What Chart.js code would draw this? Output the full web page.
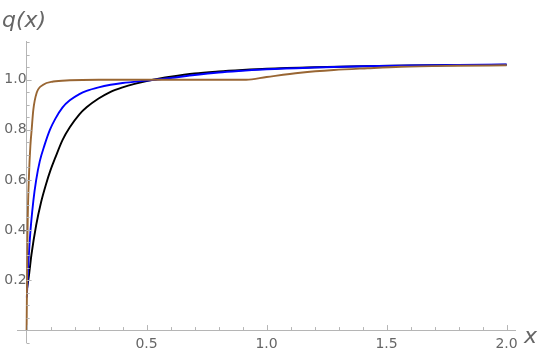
<!DOCTYPE html>
<html>
<head>
<meta charset="utf-8">
<script src="https://cdn.jsdelivr.net/npm/chart.js@4/dist/chart.umd.min.js"></script>
<style>
  body { margin: 0; background: #fff; }
  #wrap { width: 540px; height: 356px; }
</style>
</head>
<body>
<div id="wrap"><canvas id="chart" width="540" height="356"></canvas></div>
<script>
// values
const blackX = [0.001, 0.01, 0.02, 0.04, 0.06, 0.08, 0.10, 0.12, 0.15, 0.18, 0.22, 0.25, 0.30, 0.35, 0.40, 0.45, 0.50, 0.55, 0.60, 0.70, 0.80, 0.90, 1.00, 1.20, 1.40, 1.60, 1.80, 2.00]
const blackY = [0.16, 0.22, 0.30, 0.42, 0.51, 0.58, 0.64, 0.69, 0.76, 0.81, 0.862, 0.89, 0.925, 0.952, 0.970, 0.984, 0.995, 1.004, 1.012, 1.025, 1.033, 1.039, 1.044, 1.050, 1.054, 1.057, 1.059, 1.060]

const blueX = [0.001, 0.005, 0.014, 0.028, 0.04, 0.055, 0.075, 0.097, 0.12, 0.15, 0.18, 0.22, 0.25, 0.30, 0.35, 0.40, 0.50, 0.60, 0.70, 0.80, 0.90, 1.00, 1.20, 1.40, 1.60, 1.80, 2.00]
const blueY = [0.13, 0.22, 0.37, 0.515, 0.60, 0.675, 0.74, 0.80, 0.845, 0.89, 0.918, 0.943, 0.956, 0.970, 0.980, 0.987, 0.997, 1.007, 1.019, 1.029, 1.036, 1.042, 1.049, 1.054, 1.057, 1.059, 1.061]

const brownX = [0, 0.004, 0.01, 0.016, 0.021, 0.028, 0.042, 0.069, 0.111, 0.18, 0.30, 0.60, 0.915, 1.00, 1.14, 1.28, 1.42, 1.56, 1.78, 2.00]
const brownY = [0, 0.40, 0.62, 0.74, 0.80, 0.88, 0.948, 0.98, 0.993, 0.998, 1.0, 1.0, 1.0, 1.011, 1.028, 1.039, 1.046, 1.052, 1.056, 1.058]

const xTicks = [0.5, 1.0, 1.5, 2.0]
const yTicks = [0.2, 0.4, 0.6, 0.8, 1.0]

const axisGray = '#b5b5b5'
const labelGray = '#666666'

function pts(xs, ys) {
    return xs.map((x, i) => ({x: x, y: ys[i]}))
}

// Mathematica style tick marks, pointing into the plot
const tickMarks = {
    id: 'tickMarks',
    afterDatasetsDraw(chart) {
        const ctx = chart.ctx
        const xs = chart.scales.x, ys = chart.scales.y
        const x0 = xs.getPixelForValue(0), y0 = ys.getPixelForValue(0)
        ctx.save()
        ctx.strokeStyle = axisGray
        ctx.lineWidth = 1
        ctx.beginPath()
        for (let i = 0; i <= 20; i++) {
            const v = i / 10
            const p = Math.round(xs.getPixelForValue(v)) + 0.5
            const len = (i % 5 == 0) ? 5 : 3
            ctx.moveTo(p, y0)
            ctx.lineTo(p, y0 - len)
        }
        for (let i = -1; i <= 23; i++) {
            const v = i * 0.05
            const p = Math.round(ys.getPixelForValue(v)) + 0.5
            const len = (i % 4 == 0) ? 5 : 3
            ctx.moveTo(x0, p)
            ctx.lineTo(x0 + len, p)
        }
        ctx.stroke()

        ctx.fillStyle = labelGray
        ctx.font = 'italic 22px "DejaVu Sans"'
        ctx.textBaseline = 'alphabetic'
        ctx.textAlign = 'left'
        ctx.fillText('q(x)', 2, 27)
        ctx.fillText('x', 524, 343)
        ctx.restore()
    }
}

const config = {
    type: 'line',
    data: {
        datasets: [
            {label: 'brown', data: pts(brownX, brownY), borderColor: 'rgb(153,102,51)', order: 0},
            {label: 'blue', data: pts(blueX, blueY), borderColor: 'rgb(0,0,255)', order: 1},
            {label: 'black', data: pts(blackX, blackY), borderColor: 'rgb(0,0,0)', order: 2}
        ]
    },
    options: {
        responsive: false,
        devicePixelRatio: 1,
        animation: false,
        layout: {padding: {left: 17, right: 25, top: 41, bottom: 10}},
        datasets: {
            line: {borderWidth: 1.9, pointRadius: 0, cubicInterpolationMode: 'monotone', fill: false}
        },
        plugins: {legend: {display: false}, tooltip: {enabled: false}},
        scales: {
            x: {
                type: 'linear',
                min: -0.04,
                max: 2.035,
                position: {y: 0},
                grid: {display: false, drawTicks: false},
                border: {display: true, color: axisGray, width: 1},
                afterBuildTicks: (s) => { s.ticks = xTicks.map(v => ({value: v})) },
                ticks: {
                    autoSkip: false, maxRotation: 0, padding: 6,
                    color: labelGray, font: {family: 'DejaVu Sans', size: 14},
                    callback: (v) => Number(v).toFixed(1)
                }
            },
            y: {
                type: 'linear',
                min: -0.05,
                max: 1.155,
                position: {x: 0},
                grid: {display: false, drawTicks: false},
                border: {display: true, color: axisGray, width: 1},
                afterBuildTicks: (s) => { s.ticks = yTicks.map(v => ({value: v})) },
                ticks: {
                    autoSkip: false, padding: 5,
                    color: labelGray, font: {family: 'DejaVu Sans', size: 14},
                    callback: (v) => Number(v).toFixed(1)
                }
            }
        }
    },
    plugins: [tickMarks]
}

const chart = new Chart(document.getElementById('chart'), config)
</script>
</body>
</html>
